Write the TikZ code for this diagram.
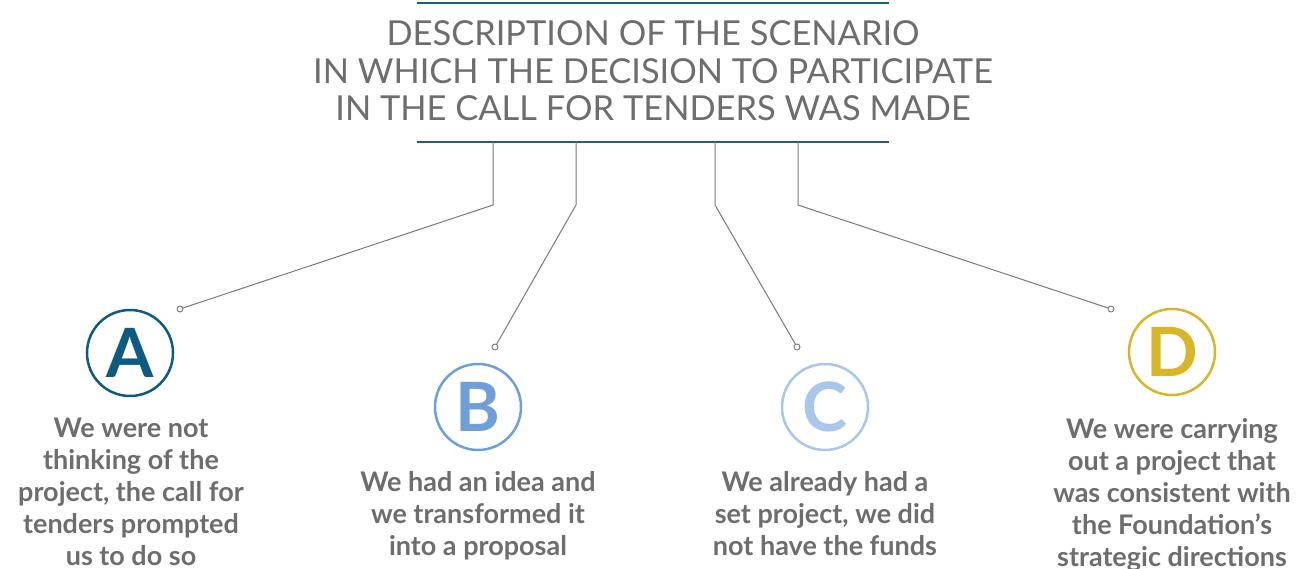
\documentclass[tikz,border=0pt]{standalone}
\usepackage{fontspec}
\setmainfont{Lato}
\definecolor{ruleblue}{HTML}{1B5E86}
\definecolor{linkgray}{HTML}{7A7A7A}
\definecolor{textgray}{HTML}{6D6D6D}
\definecolor{colA}{HTML}{0F5A80}
\definecolor{colB}{HTML}{6F9FD8}
\definecolor{colC}{HTML}{A9C7E8}
\definecolor{colD}{HTML}{D9B52A}
\begin{document}
\begin{tikzpicture}[x=1pt, y=-1pt,
    rule/.style={draw=ruleblue, line width=2.5pt},
    link/.style={draw=linkgray, line width=1pt},
    linkend/.style={circle, draw=linkgray, fill=white, line width=0.9pt, minimum size=6pt, inner sep=0pt},
    letter/.style={circle, line width=2.5pt, minimum size=86pt, inner sep=0pt, font=\fontsize{68}{68}\selectfont\bfseries},
    answer/.style={align=center, text=textgray, font=\fontsize{27}{32}\selectfont\bfseries, inner sep=0pt, anchor=north}]
    \useasboundingbox (0,0) rectangle (1297,569);

    % title between two rules
    \draw[rule] (417,3) -- (889,3);
    \node[align=center, text=textgray, font=\fontsize{34.4}{37.5}\selectfont, inner sep=0pt] (title) at (653,71)
        {DESCRIPTION OF THE SCENARIO\\IN WHICH THE DECISION TO PARTICIPATE\\IN THE CALL FOR TENDERS WAS MADE};
    \draw[rule] (417,142) -- (889,142);

    % connectors
    \coordinate (atop) at (493,142); \coordinate (abend) at (493,205);
    \coordinate (btop) at (576,142); \coordinate (bbend) at (576,205);
    \coordinate (ctop) at (715,142); \coordinate (cbend) at (715,205);
    \coordinate (dtop) at (798,142); \coordinate (dbend) at (798,205);
    \node[linkend] (aend) at (180,309) {};
    \node[linkend] (bend) at (495,347) {};
    \node[linkend] (cend) at (797,347) {};
    \node[linkend] (dend) at (1111,309) {};
    \draw[link] (atop) -- (abend) -- (aend);
    \draw[link] (btop) -- (bbend) -- (bend);
    \draw[link] (ctop) -- (cbend) -- (cend);
    \draw[link] (dtop) -- (dbend) -- (dend);

    % options
    \node[letter, draw=colA, text=colA] (A) at (130,353) {A};
    \node[letter, draw=colB, text=colB] (B) at (478,407) {B};
    \node[letter, draw=colC, text=colC] (C) at (825,407) {C};
    \node[letter, draw=colD, text=colD] (D) at (1172,352) {D};

    \node[answer] (atext) at (131,418) {We were not\\thinking of the\\project, the call for\\tenders prompted\\us to do so};
    \node[answer] (btext) at (478,471) {We had an idea and\\we transformed it\\into a proposal};
    \node[answer] (ctext) at (825,471) {We already had a\\set project, we did\\not have the funds};
    \node[answer] (dtext) at (1172,418) {We were carrying\\out a project that\\was consistent with\\the Foundation’s\\strategic directions};
\end{tikzpicture}
\end{document}
